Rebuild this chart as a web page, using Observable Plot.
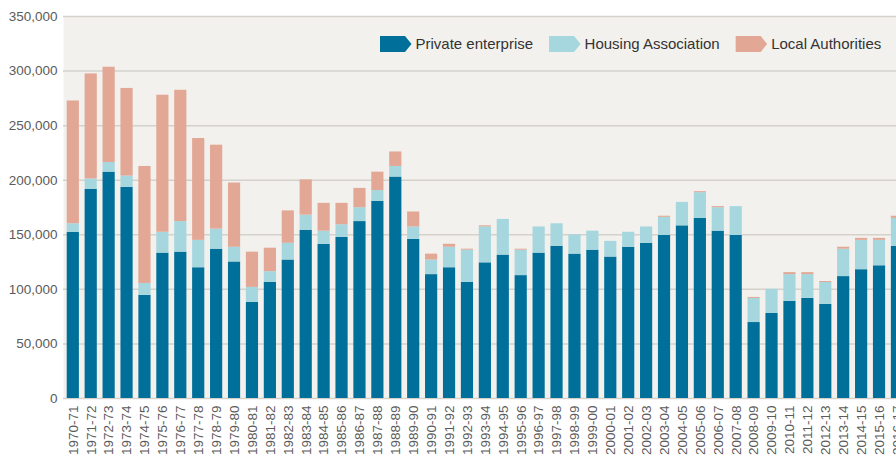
<!DOCTYPE html>
<html><head><meta charset="utf-8">
<script src="https://cdn.jsdelivr.net/npm/d3@7"></script>
<script src="https://cdn.jsdelivr.net/npm/@observablehq/plot@0.6"></script>
<style>
html,body{margin:0;padding:0;background:#fff;overflow:hidden;}
#chart{position:relative;width:896px;height:458px;overflow:hidden;}
#chart svg{overflow:hidden;display:block;}
</style></head><body><div id="chart"></div>
<script>
const years = ["1970-71","1971-72","1972-73","1973-74","1974-75","1975-76","1976-77","1977-78","1978-79","1979-80",
"1980-81","1981-82","1982-83","1983-84","1984-85","1985-86","1986-87","1987-88","1988-89","1989-90",
"1990-91","1991-92","1992-93","1993-94","1994-95","1995-96","1996-97","1997-98","1998-99","1999-00",
"2000-01","2001-02","2002-03","2003-04","2004-05","2005-06","2006-07","2007-08","2008-09","2009-10",
"2010-11","2011-12","2012-13","2013-14","2014-15","2015-16","2016-17"];
const privateEnterprise = [152300,191500,207400,193500,94500,133200,134100,119800,136800,125100,
88000,106300,126900,154200,141300,147600,162100,180700,202900,145800,
113500,119800,106300,124300,131400,112600,133200,139500,132300,135900,
129600,138600,142200,149400,158200,165000,153300,149400,69600,77900,
89000,91700,86200,111700,118000,121600,139500];
const housingAssociation = [7800,9700,8800,10300,10900,19100,28000,25100,18400,13500,
13800,9900,15300,13800,12000,11600,12700,9800,9700,11400,
13400,18800,29600,32900,32700,23300,24000,20600,17700,17400,
14400,13700,15000,16600,21500,23600,21500,26400,22100,22100,
24500,21800,20100,25100,26900,23300,25500];
const localAuthorities = [112500,96200,87300,80300,107200,125600,120300,93300,76900,58800,
32300,21500,29700,32300,25500,19600,17700,16900,13300,13700,
5400,2700,900,1000,0,900,0,0,0,0,
0,0,0,1000,0,900,1000,0,900,0,
1800,1800,900,1800,1800,1800,2000];
const seriesNames = ["Private enterprise","Housing Association","Local Authorities"];
const seriesColors = ["#00709a","#a6d7de","#e2a795"];
const yTicks = [0,50000,100000,150000,200000,250000,300000,350000];

const seriesValues = [privateEnterprise, housingAssociation, localAuthorities];
const data = years.flatMap((y, i) => seriesNames.map((s, k) => ({year: y, series: s, value: seriesValues[k][i]})));

const axisFont = '"Liberation Sans",Arial,sans-serif';
const chart = Plot.plot({
  width: 896, height: 458,
  marginLeft: 63, marginRight: 0, marginTop: 16, marginBottom: 60,
  style: {fontFamily: axisFont, background: "#fff", overflow: "hidden"},
  x: {type: "band", domain: years, range: [63.84, 905.9], paddingInner: 0.32, paddingOuter: 0.16, label: null},
  y: {domain: [0, 350000], label: null},
  color: {domain: seriesNames, range: seriesColors},
  marks: [
    Plot.frame({fill: "#f3f1ee", stroke: "none"}),
    Plot.ruleY(yTicks, {stroke: "#d5d2cb", strokeWidth: 1.5}),
    Plot.barY(data, {x: "year", y: "value", fill: "series", order: seriesNames}),
    Plot.axisY(yTicks, {tickSize: 0, tickPadding: 6, tickFormat: d3.format(","), fontSize: 13.5, fill: "#5b5b5b", label: null}),
    Plot.axisX({tickSize: 0, tickRotate: -90, tickPadding: 7, fontSize: 13.5, fill: "#5b5b5b", label: null})
  ]
});
document.getElementById("chart").appendChild(chart);

// legend inside the plot area
const svg = d3.select(chart);
const lg = svg.append("g")
  .attr("font-family", '"Liberation Sans",Arial,sans-serif')
  .attr("font-size", 15)
  .attr("text-anchor", "start")
  .attr("fill", "#333");
let lx = 380;
const ly = 36, sh = 16, sw = 25, tip = 6.5;
seriesNames.forEach((name, k) => {
  lg.append("polygon")
    .attr("points", [[lx,ly],[lx+sw,ly],[lx+sw+tip,ly+sh/2],[lx+sw,ly+sh],[lx,ly+sh]].map(p => p.join(",")).join(" "))
    .attr("fill", seriesColors[k]);
  const t = lg.append("text").attr("x", lx + sw + tip + 4).attr("y", ly + sh/2).attr("dy", "0.36em").text(name);
  lx = lx + sw + tip + 4 + t.node().getComputedTextLength() + 16;
});
</script></body></html>
